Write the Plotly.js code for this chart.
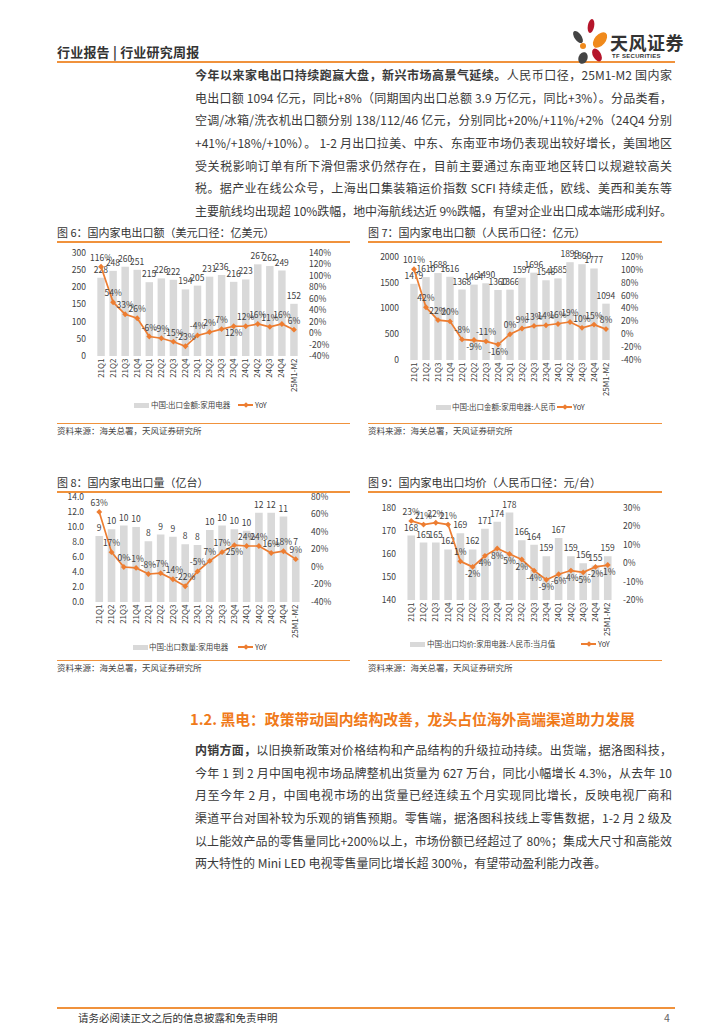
<!DOCTYPE html>
<html><head><meta charset="utf-8">
<script src="https://cdn.plot.ly/plotly-3.0.1.min.js"></script>
<style>
body{margin:0;width:724px;height:1024px;position:relative;background:#fff;font-family:"Noto Sans CJK SC","Noto Sans",sans-serif;color:#333;overflow:hidden}
.abs{position:absolute;line-height:1}
.hdr{left:57px;top:45px;font-size:13px;font-weight:bold;color:#333;letter-spacing:0.2px}
.oline{position:absolute;background:#F0923C}
.para{position:absolute;left:195px;width:477px;font-size:12px;line-height:22.7px;color:#3a3a3a}
.para div{text-align:justify;text-align-last:justify;height:22.7px;overflow:hidden;white-space:normal}
.para div.last{text-align-last:left}
.ctitle{position:absolute;font-size:11px;color:#333;line-height:1}
.src{position:absolute;font-size:8.5px;color:#444;line-height:1}
.chart{position:absolute}
.h2{position:absolute;left:190px;top:712px;font-size:14.8px;font-weight:bold;color:#F07A1A;line-height:1}
.lg{position:absolute;font-size:7.5px;color:#404040;line-height:1;white-space:nowrap}
</style></head>
<body>
<!-- header -->
<div class="abs hdr">行业报告 | 行业研究周报</div>
<div class="oline" style="left:57px;top:61px;width:618px;height:2px"></div>
<svg class="abs" style="left:570px;top:18px" width="40" height="46" viewBox="0 0 40 46">
  <ellipse cx="21" cy="8" rx="3.2" ry="7" fill="#B5152B" transform="rotate(10 21 8)"/>
  <ellipse cx="30" cy="22" rx="5.5" ry="9" fill="#F08A1C" transform="rotate(40 30 22)"/>
  <ellipse cx="8" cy="19" rx="3.5" ry="7" fill="#444" transform="rotate(-35 8 19)"/>
  <circle cx="13" cy="28" r="3" fill="#F08A1C"/>
  <ellipse cx="27" cy="37" rx="4" ry="7" fill="#B5152B" transform="rotate(-30 27 37)"/>
  <ellipse cx="13" cy="40" rx="4.5" ry="6" fill="#444" transform="rotate(20 13 40)"/>
</svg>
<div class="abs" style="left:610px;top:33px;font-size:18px;font-weight:bold;color:#333;letter-spacing:0.5px">天风证券</div>
<div class="abs" style="left:612px;top:53px;font-size:6px;font-weight:bold;color:#333;letter-spacing:0.3px;font-family:'Liberation Sans',sans-serif">TF SECURITIES</div>

<div class="para" style="top:64px">
<div><b>今年以来家电出口持续跑赢大盘，新兴市场高景气延续。</b>人民币口径，25M1-M2 国内家</div>
<div>电出口额 1094 亿元，同比+8%（同期国内出口总额 3.9 万亿元，同比+3%）。分品类看，</div>
<div>空调/冰箱/洗衣机出口额分别 138/112/46 亿元，分别同比+20%/+11%/+2%（24Q4 分别</div>
<div>+41%/+18%/+10%）。 1-2 月出口拉美、中东、东南亚市场仍表现出较好增长，美国地区</div>
<div>受关税影响订单有所下滑但需求仍然存在，目前主要通过东南亚地区转口以规避较高关</div>
<div>税。据产业在线公众号，上海出口集装箱运价指数 SCFI 持续走低，欧线、美西和美东等</div>
<div>主要航线均出现超 10%跌幅，地中海航线达近 9%跌幅，有望对企业出口成本端形成利好。</div>
</div>

<!-- chart titles -->
<div class="ctitle" style="left:57px;top:227px">图 6：国内家电出口额（美元口径：亿美元）</div>
<div class="oline" style="left:57px;top:241px;width:293px;height:1.5px"></div>
<div class="ctitle" style="left:368px;top:227px">图 7：国内家电出口额（人民币口径：亿元）</div>
<div class="oline" style="left:368px;top:241px;width:294px;height:1.5px"></div>
<div class="oline" style="left:57px;top:423px;width:293px;height:1.2px"></div>
<div class="src" style="left:57px;top:426px">资料来源：海关总署，天风证券研究所</div>
<div class="oline" style="left:368px;top:423px;width:294px;height:1.2px"></div>
<div class="src" style="left:368px;top:426px">资料来源：海关总署，天风证券研究所</div>

<div class="ctitle" style="left:57px;top:477px">图 8：国内家电出口量（亿台）</div>
<div class="oline" style="left:57px;top:491px;width:293px;height:1.5px"></div>
<div class="ctitle" style="left:368px;top:477px">图 9：国内家电出口均价（人民币口径：元/台）</div>
<div class="oline" style="left:368px;top:491px;width:294px;height:1.5px"></div>
<div class="oline" style="left:57px;top:660px;width:293px;height:1.2px"></div>
<div class="src" style="left:57px;top:663px">资料来源：海关总署，天风证券研究所</div>
<div class="oline" style="left:368px;top:660px;width:294px;height:1.2px"></div>
<div class="src" style="left:368px;top:663px">资料来源：海关总署，天风证券研究所</div>

<div id="c6" class="chart" style="left:57px;top:240px;width:300px;height:175px"></div>
<div id="c7" class="chart" style="left:368px;top:240px;width:300px;height:175px"></div>
<div id="c8" class="chart" style="left:57px;top:485px;width:300px;height:160px"></div>
<div id="c9" class="chart" style="left:368px;top:485px;width:300px;height:160px"></div>

<div class="h2">1.2. 黑电：政策带动国内结构改善，龙头占位海外高端渠道助力发展</div>
<div class="para" style="top:739px">
<div><b>内销方面，</b>以旧换新政策对价格结构和产品结构的升级拉动持续。出货端，据洛图科技，</div>
<div>今年 1 到 2 月中国电视市场品牌整机出货量为 627 万台，同比小幅增长 4.3%，从去年 10</div>
<div>月至今年 2 月，中国电视市场的出货量已经连续五个月实现同比增长，反映电视厂商和</div>
<div>渠道平台对国补较为乐观的销售预期。零售端，据洛图科技线上零售数据，1-2 月 2 级及</div>
<div>以上能效产品的零售量同比+200%以上，市场份额已经超过了 80%；集成大尺寸和高能效</div>
<div class="last">两大特性的 Mini LED 电视零售量同比增长超 300%，有望带动盈利能力改善。</div>
</div>

<div class="oline" style="left:57px;top:1007px;width:618px;height:1.5px"></div>
<div class="abs" style="left:78px;top:1013px;font-size:10.5px;color:#333">请务必阅读正文之后的信息披露和免责申明</div>
<div class="abs" style="left:664px;top:1013px;font-size:10.5px;color:#666">4</div>

<script>
// ---------- data ----------
const categories = ['21Q1','21Q2','21Q3','21Q4','22Q1','22Q2','22Q3','22Q4','23Q1','23Q2','23Q3','23Q4','24Q1','24Q2','24Q3','24Q4','25M1-M2'];

// Fig 6: export value, USD (亿美元)
const usdValue = [228,248,260,251,215,226,222,194,205,231,236,216,223,267,262,249,152];
const usdYoY   = [116,54,33,26,-6,-9,-15,-23,-4,2,7,12,12,16,11,16,6];

// Fig 7: export value, RMB (亿元)
const rmbValue = [1479,1610,1688,1616,1368,1464,1490,1360,1366,1597,1696,1548,1585,1899,1860,1777,1094];
const rmbYoY   = [101,42,22,20,-8,-9,-11,-16,0,9,13,14,16,19,10,15,8];

// Fig 8: export volume (亿台)
const volValue = [8.8,9.7,10.2,10.0,8.1,9.0,8.7,7.7,7.6,9.6,10.2,9.7,9.5,11.9,11.9,11.4,6.9];
const volYoY   = [63,17,0,-1,-8,-7,-14,-22,-5,7,17,25,24,24,16,18,9];

// Fig 9: average export price (元/台)
const priceValue = [168,165,165,162,169,162,171,174,178,166,164,159,167,159,156,155,159];
const priceYoY   = [23,21,22,21,1,-2,4,8,5,2,-4,-9,-6,-4,-5,-2,-1];

const legend6 = '中国:出口金额:家用电器';
const legend7 = '中国:出口金额:家用电器:人民币';
const legend8 = '中国:出口数量:家用电器';
const legend9 = '中国:出口均价:家用电器:人民币:当月值';
const legendLine = 'YoY';

// ---------- fit paragraph lines ----------
document.querySelectorAll('.para div').forEach(d=>{
  const s=document.createElement('span');
  s.innerHTML=d.innerHTML; s.style.whiteSpace='nowrap'; s.style.position='absolute'; s.style.visibility='hidden';
  d.parentNode.appendChild(s);
  const w=s.getBoundingClientRect().width; s.remove();
  if(w>474){ d.style.letterSpacing=((474-w)/d.textContent.length)+'px'; }
});

// ---------- legends (HTML) ----------
function legend(x1, xt, x2, x3, y, name){
  const g=document.createElement('div'); g.className='abs';
  g.style.cssText=`left:${x1}px;top:${y-2.5}px;width:15px;height:5px;background:#D9D9D9`;
  document.body.appendChild(g);
  const t=document.createElement('div'); t.className='lg'; t.textContent=name;
  t.style.left=xt+'px'; t.style.top=(y-4)+'px'; document.body.appendChild(t);
  const l=document.createElement('div'); l.className='abs';
  l.style.cssText=`left:${x2}px;top:${y-1}px;width:15px;height:2px;background:#ED7D31`;
  document.body.appendChild(l);
  const m=document.createElement('div'); m.className='abs';
  m.style.cssText=`left:${x2+5.5}px;top:${y-2}px;width:4px;height:4px;background:#ED7D31;transform:rotate(45deg)`;
  document.body.appendChild(m);
  const t2=document.createElement('div'); t2.className='lg'; t2.textContent=legendLine;
  t2.style.left=x3+'px'; t2.style.top=(y-4)+'px'; document.body.appendChild(t2);
}
legend(134,151,238,255,405,legend6);
legend(436,452,557,573,407,legend7);
legend(133,149,238,255,647,legend8);
legend(410,427,581,598,644,legend9);

// ---------- drawing ----------
const FONT = '"Noto Sans CJK SC","Noto Sans",sans-serif';
function draw(id, bars, yoy, barName, o) {
  const T = 'top center', B = 'bottom center';
  const pos = yoy.map((v,i)=> (o.below && o.below.indexOf(i)>=0) ? B : T);
  const traces = [
    {type:'bar', x:categories, y:bars, name:barName,
     marker:{color:'#D9D9D9'}, width:0.62,
     text: bars.map(o.barFmt || (v=>String(v))), textposition:'outside', constraintext:'none',
     textfont:{size:8.5,color:'#404040',family:FONT}, cliponaxis:false, hoverinfo:'skip'},
    {type:'scatter', mode:'lines+markers+text', x:categories, y:yoy, yaxis:'y2', name:legendLine,
     line:{color:'#ED7D31',width:1.7}, marker:{symbol:'diamond',size:4.5,color:'#ED7D31'},
     text: yoy.map(v=>v+'%'), textposition:pos,
     textfont:{size:8.5,color:'#404040',family:FONT}, cliponaxis:false, hoverinfo:'skip'}
  ];
  const layout = {
    width:o.w, height:o.h, margin:o.m, paper_bgcolor:'rgba(0,0,0,0)', plot_bgcolor:'rgba(0,0,0,0)',
    font:{family:FONT,size:8,color:'#404040'},
    showlegend:false,
    bargap:0.38,
    xaxis:{type:'category', tickangle:-90, tickfont:{size:8}, showline:false, ticks:'', showgrid:false, zeroline:false, automargin:false},
    yaxis:{range:o.yr, tickmode:'array', tickvals:o.tv, ticktext:o.tv.map(o.tf||(v=>String(v))), showgrid:false, zeroline:false, showline:false, ticks:'', tickfont:{size:8.5}, automargin:false},
    yaxis2:{overlaying:'y', side:'right', range:o.yr2, tickmode:'array', tickvals:o.tv2, ticktext:o.tv2.map(v=>v+'%'), showgrid:false, zeroline:false, showline:false, ticks:'', tickfont:{size:8.5}, automargin:false}
  };
  Plotly.newPlot(id, traces, layout, {displayModeBar:false, staticPlot:true});
}
function steps(a,b,d){const r=[];for(let v=a;v<=b+1e-9;v+=d)r.push(Math.round(v*1000)/1000);return r;}

draw('c6', usdValue, usdYoY, legend6, {w:300,h:175,m:{l:30,r:49,t:13,b:59}, yr:[0,300], tv:steps(0,300,50), yr2:[-40,140], tv2:steps(-40,140,20), below:[11]});
draw('c7', rmbValue, rmbYoY, legend7, {w:300,h:175,m:{l:32,r:48,t:17,b:55}, yr:[0,2000], tv:steps(0,2000,500), yr2:[-40,120], tv2:steps(-40,120,20), below:[5,7]});
draw('c8', volValue, volYoY, legend8, {w:300,h:160,m:{l:28,r:47,t:12,b:43}, yr:[0,14], tv:steps(0,14,2), tf:(v=>v.toFixed(1)), yr2:[-40,80], tv2:steps(-40,80,20), below:[11], barFmt:(v=>String(Math.round(v)))});
draw('c9', priceValue, priceYoY, legend9, {w:300,h:160,m:{l:29,r:46,t:23,b:45}, yr:[140,180], tv:steps(140,180,10), yr2:[-20,30], tv2:steps(-20,30,10), below:[5,6,7,8,9,10,11,12,13,14,15,16]});
</script>
</body></html>
